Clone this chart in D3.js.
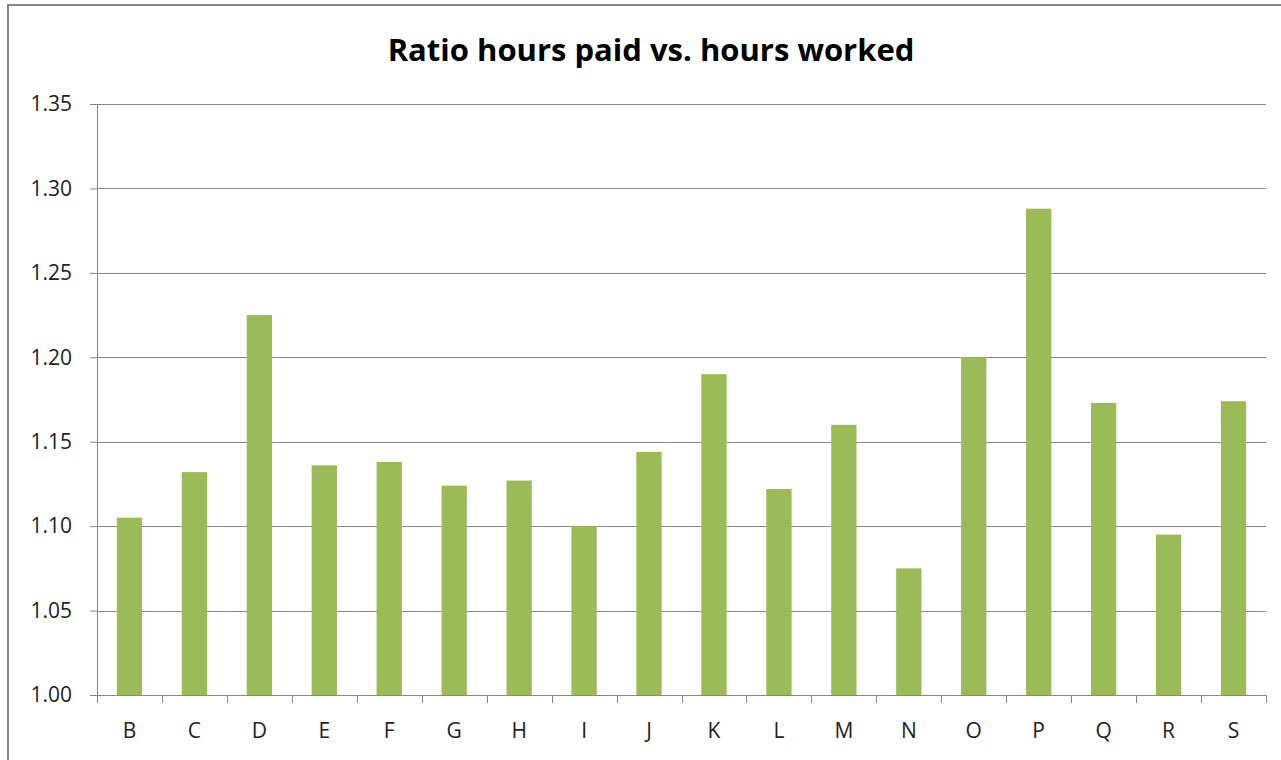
<!DOCTYPE html>
<html>
<head>
<meta charset="utf-8">
<script src="https://cdn.jsdelivr.net/npm/d3@7"></script>
<style>
  body { margin: 0; background: #fff; }
  text { font-family: "Open Sans", Lato, sans-serif; fill: #222; }
</style>
</head>
<body>
<script>
var categories = ["B","C","D","E","F","G","H","I","J","K","L","M","N","O","P","Q","R","S"];
var ratios = [1.105, 1.132, 1.225, 1.136, 1.138, 1.124, 1.127, 1.100, 1.144, 1.190, 1.122, 1.160, 1.075, 1.200, 1.288, 1.173, 1.095, 1.174];
var yTicks = [1.00, 1.05, 1.10, 1.15, 1.20, 1.25, 1.30, 1.35];

var svgWidth = 1281;
var svgHeight = 760;

var margin = {top: 104, right: 15, bottom: 65, left: 97};
var width = 1266 - margin.left;
var height = 695 - margin.top;

var svg = d3.select("body").append("svg").attr("width", svgWidth).attr("height", svgHeight);

// outer chart border
svg.append("rect").attr("x", 8).attr("y", 5).attr("width", 1290).attr("height", 800)
  .attr("fill", "none").attr("stroke", "#868686").attr("stroke-width", 2);

svg.append("text").attr("x", 651).attr("y", 61).attr("text-anchor", "middle")
  .style("font-size", "31px").style("font-weight", "bold").style("fill", "#000")
  .text("Ratio hours paid vs. hours worked");

var chartGroup = svg.append("g").attr("transform", `translate(${margin.left}, ${margin.top})`);

var xScale = d3.scaleBand().domain(categories).range([0, width]).paddingInner(0.61).paddingOuter(0.305);
var yScale = d3.scaleLinear().domain([1.00, 1.35]).range([height, 0]);

// gridlines
chartGroup.append("g").selectAll("line").data(yTicks.slice(1)).enter().append("line")
  .attr("x1", 0).attr("x2", width)
  .attr("y1", d => Math.round(yScale(d)) + 0.5).attr("y2", d => Math.round(yScale(d)) + 0.5)
  .attr("stroke", "#888").attr("stroke-width", 1);

// bars
chartGroup.selectAll("rect.bar").data(ratios).enter().append("rect")
  .attr("class", "bar")
  .attr("x", (d, i) => xScale(categories[i]))
  .attr("y", d => yScale(d))
  .attr("width", xScale.bandwidth())
  .attr("height", d => height - yScale(d))
  .attr("fill", "#9bbb59");

// y axis
var leftAxis = d3.axisLeft(yScale).tickValues(yTicks).tickFormat(d3.format(".2f")).tickSize(7).tickPadding(18);
var yAxisG = chartGroup.append("g").call(leftAxis);
yAxisG.selectAll("text").style("font-size", "21px").attr("fill", "#222");

// x axis with ticks between categories
var edgeScale = d3.scaleLinear().domain([0, categories.length]).range([0, width]);
var xAxisG = chartGroup.append("g").attr("transform", `translate(0,${height})`);
xAxisG.append("line").attr("x1", 0).attr("x2", width).attr("y1", 0.5).attr("y2", 0.5).attr("stroke", "#888");
xAxisG.selectAll("line.tk").data(d3.range(categories.length + 1)).enter().append("line")
  .attr("class", "tk")
  .attr("x1", d => Math.round(edgeScale(d)) + 0.5).attr("x2", d => Math.round(edgeScale(d)) + 0.5)
  .attr("y1", 0).attr("y2", 8).attr("stroke", "#888");
xAxisG.selectAll("text").data(categories).enter().append("text")
  .attr("x", d => xScale(d) + xScale.bandwidth() / 2)
  .attr("y", 43).attr("text-anchor", "middle").style("font-size", "21px")
  .text(d => d);

yAxisG.select(".domain").attr("stroke", "#888");
yAxisG.selectAll(".tick line").attr("stroke", "#888");
</script>
</body>
</html>
